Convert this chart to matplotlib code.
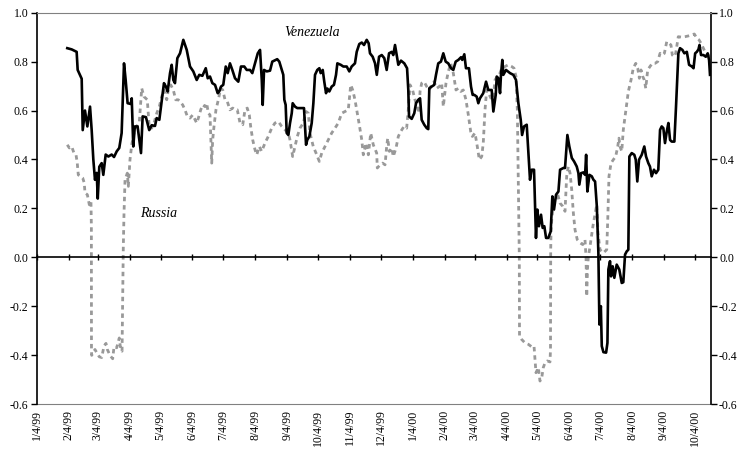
import matplotlib
matplotlib.use("Agg")
import matplotlib.pyplot as plt
import pandas as pd

plt.rcParams["font.family"] = "serif"
plt.rcParams["font.serif"] = ["Liberation Serif", "DejaVu Serif"]
plt.rcParams["axes.unicode_minus"] = False

START = pd.Timestamp("1999-01-04")

# days after 4 Jan 1999, rolling correlation
ven_day = [29.4, 33.7, 38.5, 39.5, 43.4, 44.4, 46.6, 48.9, 51.5, 53.1, 54.7, 56.3, 58.0, 59.0, 60.5,
           62.8, 64.4, 66.7, 69.3, 72.5, 74.8, 77.4, 79.9, 82.2, 84.5, 86.1, 88.0, 91.0, 92.0, 93.5,
           95.0, 97.7, 101.0, 102.6, 105.8, 109.0, 111.4, 114.6, 116.2, 118.8, 121.1, 123.3, 125.2,
           126.9, 129.2, 130.8, 132.4, 134.0, 136.3, 138.9, 142.1, 145.4, 148.6, 151.8, 155.1, 157.6,
           160.6, 163.9, 165.8, 168.0, 170.3, 172.9, 175.5, 177.0, 178.7, 180.9, 183.3, 185.2, 187.4,
           189.7, 192.3, 195.5, 198.1, 201.3, 203.7, 206.9, 209.1, 211.7, 214.4, 216.6, 218.3, 219.2,
           220.5, 223.1, 226.3, 228.5, 233.3, 235.3, 237.7, 239.2, 240.2, 241.5, 242.5, 244.1, 245.7,
           247.4, 248.3, 250.6, 252.8, 256.0, 259.3, 260.3, 261.3, 262.5, 264.5, 266.8, 268.4, 270.0,
           272.2, 274.2, 275.5, 277.5, 279.0, 280.7, 282.0, 283.9, 286.2, 288.4, 290.4, 291.7, 295.0,
           297.5, 300.8, 303.3, 305.6, 308.8, 310.5, 313.0, 315.4, 317.6, 320.2, 322.1, 323.4, 326.0,
           328.3, 330.0, 332.2, 334.8, 337.3, 339.6, 341.9, 344.5, 346.0, 347.7, 349.3, 350.9, 353.5,
           356.7, 359.4, 360.6, 361.3, 363.9, 366.4, 368.1, 370.3, 372.0, 373.6, 376.1, 378.5, 380.0,
           381.0, 383.3, 385.8, 387.5, 389.7, 392.3, 394.6, 396.9, 399.4, 402.1, 404.3, 406.6, 409.2,
           411.8, 413.0, 415.0, 416.6, 419.5, 421.5, 423.1, 424.7, 427.0, 428.6, 430.2, 433.4, 436.1,
           438.3, 441.6, 443.2, 445.5, 446.5, 448.0, 449.7, 450.6, 451.9, 452.9, 455.5, 459.4, 462.6,
           465.2, 467.5, 469.8, 471.1, 473.0, 475.6, 477.2, 478.8, 480.4, 482.7, 483.7, 484.6, 485.9,
           487.5, 489.5, 491.1, 492.7, 494.4, 496.6, 498.9, 500.5, 502.1, 504.1, 506.4, 508.0, 511.2,
           512.8, 515.1, 517.0, 519.4, 521.6, 524.2, 525.8, 526.7, 528.4, 530.7, 532.3, 533.3, 534.5,
           536.5, 538.8, 540.4, 542.0, 543.7, 545.2, 546.2, 547.6, 548.5, 550.1, 552.7, 554.0, 554.9,
           556.5, 557.5, 559.1, 560.7, 563.0, 565.5, 567.9, 569.4, 571.1, 572.7, 574.3, 575.3, 577.6,
           580.1, 581.5, 583.0, 584.7, 587.3, 589.8, 591.5, 593.7, 595.3, 597.0, 599.2, 601.2, 603.4,
           605.1, 606.7, 608.3, 609.9, 611.6, 613.2, 614.8, 616.4, 619.0, 620.6, 622.9, 624.5, 626.8,
           628.7, 631.1, 633.3, 636.0, 637.6, 639.2, 640.8, 642.4, 643.4, 644.9, 647.2, 649.5, 651.4,
           652.7, 653.6]
ven_corr = [0.855, 0.85, 0.84, 0.766, 0.73, 0.52, 0.60, 0.535, 0.616, 0.52, 0.40, 0.317, 0.345, 0.24, 0.37,
            0.385, 0.337, 0.42, 0.412, 0.42, 0.41, 0.433, 0.447, 0.508, 0.793, 0.725, 0.63, 0.627, 0.65, 0.453,
            0.535, 0.535, 0.426, 0.576, 0.573, 0.52, 0.54, 0.537, 0.569, 0.562, 0.637, 0.712, 0.698,
            0.678, 0.753, 0.787, 0.725, 0.712, 0.814, 0.834, 0.889, 0.848, 0.78, 0.76, 0.725, 0.746,
            0.742, 0.773, 0.732, 0.739, 0.712, 0.705, 0.671, 0.678, 0.698, 0.705, 0.78, 0.753, 0.793,
            0.766, 0.732, 0.718, 0.78, 0.78, 0.766, 0.766, 0.753, 0.793, 0.834, 0.848, 0.725, 0.623,
            0.766, 0.76, 0.763, 0.80, 0.81, 0.80, 0.766, 0.746, 0.644, 0.623, 0.508, 0.50, 0.548,
            0.589, 0.63, 0.616, 0.61, 0.61, 0.61, 0.535, 0.46, 0.48, 0.494, 0.549, 0.63, 0.746,
            0.766, 0.773, 0.753, 0.766, 0.718, 0.671, 0.69, 0.678, 0.698, 0.705, 0.746, 0.793, 0.787,
            0.78, 0.78, 0.76, 0.78, 0.793, 0.84, 0.872, 0.878, 0.868, 0.889, 0.875, 0.834, 0.82,
            0.793, 0.746, 0.82, 0.827, 0.814, 0.766, 0.834, 0.84, 0.827, 0.868, 0.827, 0.787, 0.804,
            0.793, 0.773, 0.684, 0.576, 0.566, 0.589, 0.63, 0.644, 0.65, 0.562, 0.542, 0.528, 0.524,
            0.691, 0.698, 0.705, 0.746, 0.793, 0.80, 0.834, 0.80, 0.793, 0.773, 0.766, 0.80, 0.807,
            0.818, 0.807, 0.83, 0.773, 0.773, 0.698, 0.664, 0.664, 0.657, 0.63, 0.65, 0.671, 0.718,
            0.684, 0.684, 0.596, 0.664, 0.739, 0.732, 0.671, 0.746, 0.807, 0.746, 0.766, 0.753, 0.746,
            0.725, 0.63, 0.562, 0.50, 0.535, 0.542, 0.426, 0.317, 0.358, 0.358, 0.208, 0.079, 0.195,
            0.127, 0.174, 0.12, 0.127, 0.079, 0.079, 0.106, 0.249, 0.195, 0.256, 0.269, 0.358, 0.365,
            0.365, 0.50, 0.453, 0.406, 0.392, 0.371, 0.344, 0.297, 0.344, 0.347, 0.337, 0.419, 0.269,
            0.337, 0.331, 0.317, 0.31, 0.208, 0.018, -0.275, -0.20, -0.363, -0.388, -0.39, -0.35, -0.05,
            -0.016, -0.078, -0.037, -0.084, -0.03, -0.05, -0.105, -0.102, 0.011, 0.024, 0.031, 0.412, 0.426,
            0.419, 0.399, 0.31, 0.399, 0.419, 0.453, 0.412, 0.385, 0.371, 0.331, 0.358, 0.344, 0.358,
            0.521, 0.535, 0.528, 0.467, 0.514, 0.549, 0.48, 0.473, 0.473, 0.616, 0.834, 0.855, 0.848,
            0.834, 0.84, 0.787, 0.78, 0.773, 0.834, 0.84, 0.85, 0.868, 0.827, 0.827, 0.82, 0.834,
            0.807, 0.746]

rus_day = [29.4, 31.4, 33.7, 35.9, 37.9, 39.1, 40.1, 42.4, 44.4, 45.9, 46.6, 48.9, 50.8, 52.4, 52.8,
           52.9, 53.1, 56.3, 58.0, 60.5, 62.8, 65.1, 67.0, 68.3, 70.9, 73.5, 74.8, 77.4, 79.9, 81.3,
           82.6, 83.2, 83.8, 84.5, 85.5, 87.7, 88.7, 90.3, 92.0, 94.2, 96.8, 99.4, 101.7, 103.9, 107.1,
           109.1, 111.4, 113.6, 116.3, 118.8, 121.1, 123.3, 126.0, 127.5, 129.9, 132.4, 134.7, 137.2,
           138.9, 141.5, 143.7, 146.0, 148.6, 151.2, 153.5, 155.1, 156.7, 159.0, 160.9, 163.2, 164.8,
           166.4, 168.0, 169.7, 170.6, 171.9, 173.8, 176.1, 178.4, 180.4, 182.6, 184.8, 187.4, 190.1,
           192.3, 194.5, 197.2, 199.8, 202.0, 204.2, 206.2, 207.5, 209.5, 211.7, 213.4, 215.9, 218.2,
           221.4, 224.6, 227.9, 231.1, 234.4, 237.7, 240.9, 244.1, 245.7, 248.3, 250.6, 252.8, 255.4,
           258.6, 261.3, 263.5, 265.1, 268.3, 271.0, 274.2, 276.5, 279.7, 282.9, 286.2, 289.4, 292.6,
           295.9, 299.1, 302.3, 304.7, 306.6, 308.8, 310.5, 313.0, 315.4, 316.9, 319.5, 321.8, 324.1,
           326.6, 329.9, 330.5, 333.1, 335.7, 338.0, 339.6, 340.6, 342.2, 344.5, 346.0, 348.7, 350.9,
           353.2, 356.4, 359.0, 360.6, 362.3, 364.7, 367.1, 369.3, 371.0, 372.0, 373.6, 375.9, 378.5,
           381.0, 383.3, 385.6, 388.2, 390.7, 393.0, 394.6, 397.2, 399.5, 401.8, 404.3, 406.9, 409.2,
           411.5, 414.0, 416.6, 418.9, 421.2, 422.8, 425.4, 427.6, 429.6, 431.9, 433.4, 435.1, 436.7,
           439.3, 441.6, 443.2, 444.8, 447.0, 449.0, 451.3, 454.5, 457.7, 461.0, 463.3, 465.2, 466.5,
           467.4, 468.4, 468.6, 470.7, 473.9, 477.2, 480.4, 482.7, 483.7, 484.6, 486.9, 488.5, 490.2,
           491.7, 493.4, 495.6, 498.2, 498.7, 498.9, 499.2, 499.9, 501.4, 504.1, 505.3, 507.9, 510.6,
           512.8, 514.4, 516.0, 517.7, 519.3, 520.9, 522.5, 524.7, 527.4, 530.0, 532.2, 533.2, 533.9,
           534.6, 535.4, 537.1, 540.0, 543.6, 544.8, 546.8, 550.0, 553.3, 554.3, 555.5, 557.5, 559.7,
           562.0, 564.0, 565.2, 566.2, 567.9, 569.4, 571.1, 572.7, 574.3, 576.9, 579.1, 581.5, 583.4,
           585.0, 586.6, 588.3, 589.8, 591.2, 593.1, 595.3, 597.6, 600.2, 602.8, 605.1, 607.3, 609.3,
           611.6, 613.8, 615.7, 617.0, 619.0, 620.3, 622.8, 626.1, 629.3, 632.5, 635.8, 638.4, 640.7,
           642.9, 644.9, 647.1, 649.5, 652.0, 653.6]
rus_corr = [0.46, 0.447, 0.453, 0.426, 0.419, 0.385, 0.337, 0.331, 0.324, 0.304, 0.263, 0.256, 0.215, 0.229, 0.127,
            -0.38, -0.401, -0.377, -0.39, -0.407, -0.41, -0.363, -0.352, -0.377, -0.401, -0.415, -0.366, -0.37, -0.33, -0.377,
            -0.384, -0.173, 0.038, 0.18, 0.317, 0.344, 0.29, 0.399, 0.46, 0.508, 0.535, 0.555, 0.691, 0.657, 0.644,
            0.528, 0.528, 0.549, 0.589, 0.616, 0.657, 0.684, 0.644, 0.684, 0.705, 0.684, 0.644, 0.644,
            0.637, 0.623, 0.603, 0.576, 0.569, 0.582, 0.562, 0.549, 0.569, 0.603, 0.623, 0.616, 0.63,
            0.589, 0.582, 0.385, 0.48, 0.535, 0.603, 0.644, 0.691, 0.684, 0.644, 0.637, 0.603, 0.61,
            0.603, 0.603, 0.549, 0.542, 0.603, 0.61, 0.582, 0.535, 0.48, 0.44, 0.419, 0.453, 0.433,
            0.467, 0.494, 0.528, 0.549, 0.555, 0.535, 0.521, 0.508, 0.48, 0.412, 0.453, 0.494, 0.528,
            0.549, 0.596, 0.589, 0.508, 0.453, 0.426, 0.392, 0.426, 0.453, 0.48, 0.508, 0.528, 0.549,
            0.589, 0.596, 0.603, 0.705, 0.684, 0.644, 0.603, 0.542, 0.48, 0.419, 0.467, 0.419, 0.508,
            0.46, 0.426, 0.365, 0.378, 0.385, 0.378, 0.453, 0.487, 0.433, 0.447, 0.412, 0.447, 0.494,
            0.514, 0.535, 0.528, 0.603, 0.705, 0.685, 0.644, 0.616, 0.589, 0.678, 0.712, 0.718, 0.698,
            0.684, 0.705, 0.718, 0.691, 0.698, 0.712, 0.616, 0.712, 0.76, 0.793, 0.753, 0.684, 0.691,
            0.678, 0.684, 0.644, 0.582, 0.514, 0.494, 0.508, 0.453, 0.399, 0.412, 0.467, 0.603, 0.684,
            0.664, 0.644, 0.657, 0.725, 0.739, 0.746, 0.773, 0.78, 0.787, 0.78, 0.773, 0.739, 0.603,
            0.304, 0.004, -0.322, -0.336, -0.35, -0.356, -0.366, -0.363, -0.418, -0.472, -0.451, -0.506, -0.492,
            -0.451, -0.431, -0.424, -0.428, -0.377, 0.03, 0.1, 0.154, 0.208, 0.236, 0.263, 0.222, 0.208,
            0.188, 0.331, 0.371, 0.344, 0.276, 0.181, 0.113, 0.072, 0.059, 0.052, 0.072, 0.0, -0.16,
            -0.05, 0.0, 0.045, 0.13, 0.215, 0.1, 0.031, 0.018, 0.031, 0.154, 0.331, 0.385, 0.399,
            0.412, 0.453, 0.487, 0.453, 0.433, 0.521, 0.576, 0.63, 0.678, 0.725, 0.773, 0.793, 0.773,
            0.732, 0.766, 0.739, 0.725, 0.691, 0.766, 0.78, 0.793, 0.793, 0.80, 0.834, 0.827, 0.834,
            0.882, 0.875, 0.868, 0.827, 0.82, 0.834, 0.902, 0.90, 0.902, 0.905, 0.909, 0.913, 0.896,
            0.889, 0.875, 0.855, 0.834, 0.827, 0.807]

tick_dates = pd.date_range("1999-01-01", "2000-10-04", freq="MS") + pd.Timedelta(days=3)
tick_labels = [f"{d.month}/{d.day}/{d.strftime('%y')}" for d in tick_dates]
y_ticks = [-0.6, -0.4, -0.2, 0.0, 0.2, 0.4, 0.6, 0.8, 1.0]


def to_dates(days):
    return START + pd.to_timedelta(days, unit="D")


fig = plt.figure(figsize=(7.46, 4.51), dpi=100)
ax = fig.add_axes([0.0496, 0.1042, 0.9031, 0.8676])

ax.plot(to_dates(rus_day), rus_corr, color="#999999", lw=2.0,
        linestyle=(0, (1.6, 1.4)), dash_capstyle="butt")
ax.plot(to_dates(ven_day), ven_corr, color="black", lw=1.9)

ax.set_ylim(-0.6, 1.0)
ax.set_xlim(START, START + pd.Timedelta(days=654.3))
ax.set_yticks(y_ticks)
ax.set_yticklabels([f"{v:.1f}" for v in y_ticks])
ax.tick_params(axis="y", which="both", direction="out", length=4, width=1,
               left=True, right=True, labelleft=True, labelright=True,
               labelsize=8.5, pad=2, colors="black")

# horizontal axis sits on zero; its labels stay at the bottom of the plot
ax.spines["bottom"].set_position(("data", 0))
ax.spines["bottom"].set_linewidth(1.2)
ax.set_xticks(tick_dates)
ax.tick_params(axis="x", direction="inout", length=5, width=1, labelbottom=False)
for side in ("left", "right"):
    ax.spines[side].set_linewidth(1.2)
ax.spines["top"].set_color("#808080")

sec = ax.secondary_xaxis("bottom")
sec.set_xticks(tick_dates)
sec.set_xticklabels(tick_labels, rotation=90, fontsize=8.5)
sec.tick_params(length=0, pad=4)
sec.spines["bottom"].set_color("#808080")

ax.text(START + pd.Timedelta(days=267), 0.92, "Venezuela", style="italic",
        fontsize=10, ha="center", va="center")
ax.text(START + pd.Timedelta(days=118), 0.18, "Russia", style="italic",
        fontsize=10, ha="center", va="center")

fig.savefig("out.png", dpi=100)
